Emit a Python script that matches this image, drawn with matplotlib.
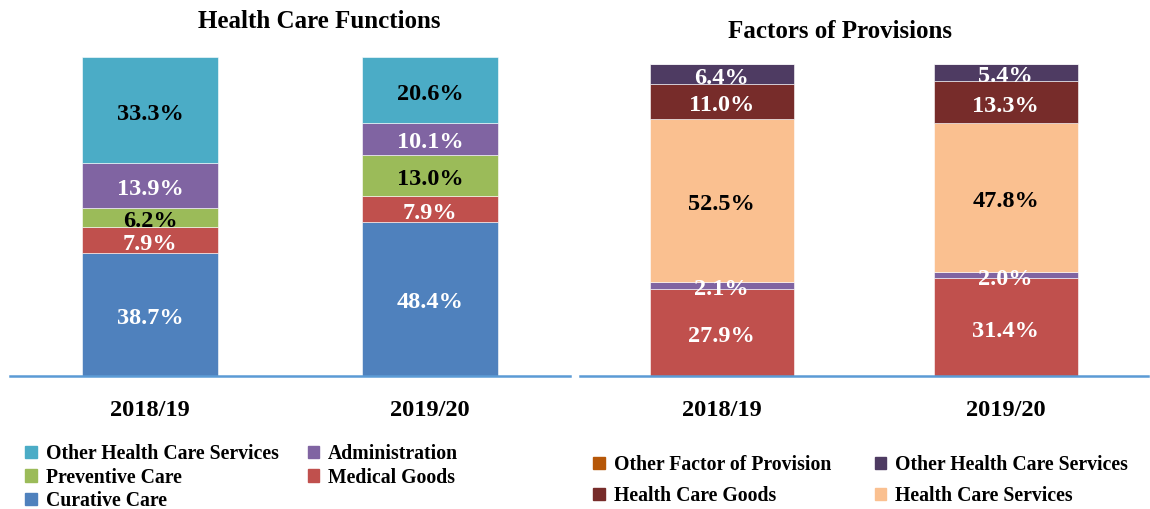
import matplotlib
matplotlib.use("Agg")
import matplotlib.pyplot as plt
from matplotlib.patches import Patch

plt.rcParams['font.family'] = ['Liberation Serif', 'DejaVu Serif']
plt.rcParams['font.weight'] = 'bold'

years = ['2018/19', '2019/20']

# Health Care Functions (bottom -> top)
hcf_names = ['Curative Care', 'Medical Goods', 'Preventive Care',
             'Administration', 'Other Health Care Services']
hcf_values = [
    [38.7, 48.4],
    [7.9, 7.9],
    [6.2, 13.0],
    [13.9, 10.1],
    [33.3, 20.6],
]
hcf_colors = ['#4F81BD', '#C0504D', '#9BBB59', '#8064A2', '#4BACC6']
hcf_text = ['white', 'white', 'black', 'white', 'black']

# Factors of Provisions (bottom -> top)
fop_names = ['Health Care Services (red)', 'Other (purple)', 'Health Care Services',
             'Health Care Goods', 'Other Health Care Services',
             'Other Factor of Provision']
fop_values = [
    [27.9, 31.4],
    [2.1, 2.0],
    [52.5, 47.8],
    [11.0, 13.3],
    [6.4, 5.4],
    [0.1, 0.1],
]
fop_colors = ['#C0504D', '#8064A2', '#FAC090', '#772C2A', '#4E3B62', '#B65708']
fop_text = ['white', 'white', 'black', 'white', 'white', None]


def stacked(ax, values, colors, tcolors, width):
    x = range(len(years))
    bottom = [0.0] * len(years)
    for vals, c, tc in zip(values, colors, tcolors):
        ax.bar(x, vals, width=width, bottom=bottom, color=c,
               edgecolor='white', linewidth=0.4)
        if tc is not None:
            for i, v in enumerate(vals):
                ax.annotate('%.1f%%' % v, (i, bottom[i] + v / 2),
                            xytext=(0, -3), textcoords='offset points',
                            ha='center', va='center', color=tc,
                            fontsize=17.5, fontweight='bold')
        bottom = [b + v for b, v in zip(bottom, vals)]
    ax.set_xlim(-0.5, 1.5)
    ax.set_ylim(0, 100)
    ax.set_yticks([])
    ax.set_xticks(list(x))
    ax.set_xticklabels(years, fontsize=17.6, fontweight='bold')
    ax.tick_params(axis='x', length=0, pad=17)
    for s in ['top', 'right', 'left']:
        ax.spines[s].set_visible(False)
    ax.spines['bottom'].set_color('#5B9BD5')
    ax.spines['bottom'].set_linewidth(1.8)


fig = plt.figure(figsize=(11.5, 5.09), dpi=100)

ax1 = fig.add_axes([0.0087, 0.2613, 0.487, 0.6267])
stacked(ax1, hcf_values, hcf_colors, hcf_text, 0.486)
fig.text(0.278, 0.957, 'Health Care Functions', fontsize=18,
         fontweight='bold', ha='center', va='center')

ax2 = fig.add_axes([0.504, 0.2613, 0.494, 0.6130])
stacked(ax2, fop_values, fop_colors, fop_text, 0.507)
fig.text(0.730, 0.939, 'Factors of Provisions', fontsize=18,
         fontweight='bold', ha='center', va='center')

h1 = [Patch(color=hcf_colors[i]) for i in [4, 2, 0, 3, 1]]
l1 = [hcf_names[i] for i in [4, 2, 0, 3, 1]]
fig.legend(h1, l1, ncol=2, loc='upper left', bbox_to_anchor=(0.0217, 0.1276),
           frameon=False, fontsize=14.2, handlelength=0.6, handleheight=0.6,
           handletextpad=0.45, columnspacing=1.47, labelspacing=0.18,
           borderaxespad=0, borderpad=0)

h2 = [Patch(color=fop_colors[i]) for i in [5, 3, 4, 2]]
l2 = [fop_names[i] for i in [5, 3, 4, 2]]
fig.legend(h2, l2, ncol=2, loc='upper left', bbox_to_anchor=(0.5157, 0.106),
           frameon=False, fontsize=14.2, handlelength=0.6, handleheight=0.6,
           handletextpad=0.45, columnspacing=2.2, labelspacing=0.55,
           borderaxespad=0, borderpad=0)

fig.savefig('out.png', dpi=100)
